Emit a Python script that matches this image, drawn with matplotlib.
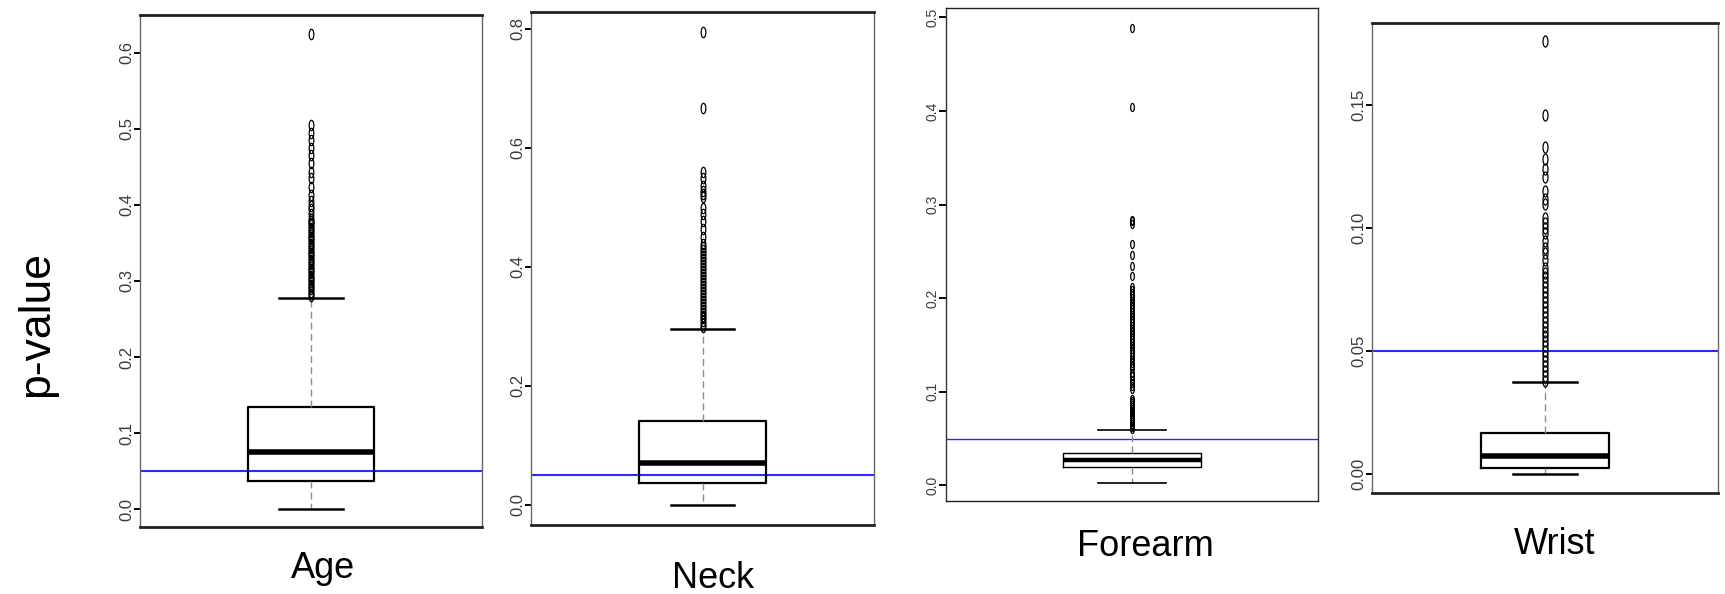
import matplotlib
matplotlib.use("Agg")
import matplotlib.pyplot as plt
import numpy as np
from matplotlib import font_manager

# values
names = ["Age", "Neck", "Forearm", "Wrist"]
cutoff = 0.05

# low whisker, Q1, median, Q3, high whisker
age_stats = [0.0, 0.037, 0.075, 0.134, 0.278]
neck_stats = [0.0, 0.036, 0.070, 0.140, 0.296]
forearm_stats = [0.003, 0.020, 0.027, 0.035, 0.059]
wrist_stats = [0.0, 0.0025, 0.0074, 0.0169, 0.0374]

age_fliers = [0.280, 0.283, 0.286, 0.289, 0.292, 0.295, 0.298, 0.301, 0.304,
              0.307, 0.310, 0.313, 0.316, 0.319, 0.322, 0.325, 0.328, 0.331,
              0.334, 0.337, 0.340, 0.343, 0.346, 0.349, 0.352, 0.355, 0.358,
              0.361, 0.364, 0.367, 0.370, 0.373, 0.376, 0.379, 0.382, 0.388,
              0.394, 0.398, 0.405, 0.413, 0.423, 0.435, 0.443, 0.455, 0.465,
              0.475, 0.485, 0.495, 0.505, 0.625]
neck_fliers = [0.298, 0.303, 0.308, 0.313, 0.318, 0.323, 0.328, 0.333, 0.338,
               0.343, 0.348, 0.353, 0.358, 0.363, 0.368, 0.373, 0.378, 0.383,
               0.388, 0.393, 0.398, 0.403, 0.408, 0.413, 0.418, 0.423, 0.428,
               0.433, 0.438, 0.450, 0.463, 0.476, 0.489, 0.499, 0.517, 0.522,
               0.527, 0.536, 0.549, 0.559, 0.667, 0.794]
forearm_fliers = [0.060, 0.062, 0.064, 0.066, 0.068, 0.070, 0.072, 0.074,
                  0.076, 0.078, 0.080, 0.082, 0.084, 0.086, 0.088, 0.090,
                  0.092, 0.103, 0.106, 0.109, 0.113, 0.117, 0.120, 0.125,
                  0.128, 0.131, 0.134, 0.137, 0.140, 0.143, 0.146, 0.149,
                  0.152, 0.155, 0.158, 0.161, 0.164, 0.167, 0.170, 0.173,
                  0.176, 0.179, 0.182, 0.185, 0.188, 0.191, 0.194, 0.197,
                  0.200, 0.203, 0.206, 0.209, 0.212, 0.224, 0.234, 0.246,
                  0.258, 0.279, 0.282, 0.284, 0.404, 0.489]
wrist_fliers = [0.038, 0.040, 0.042, 0.044, 0.046, 0.048, 0.050, 0.052, 0.054,
                0.056, 0.058, 0.060, 0.062, 0.064, 0.066, 0.068, 0.070, 0.072,
                0.074, 0.076, 0.078, 0.080, 0.082, 0.084, 0.087, 0.090, 0.092,
                0.095, 0.098, 0.100, 0.102, 0.104, 0.110, 0.112, 0.115, 0.121,
                0.124, 0.128, 0.133, 0.146, 0.176]

age_ticks = [0.0, 0.1, 0.2, 0.3, 0.4, 0.5, 0.6]
age_ticklabels = ["0.0", "0.1", "0.2", "0.3", "0.4", "0.5", "0.6"]
neck_ticks = [0.0, 0.2, 0.4, 0.6, 0.8]
neck_ticklabels = ["0.0", "0.2", "0.4", "0.6", "0.8"]
forearm_ticks = [0.0, 0.1, 0.2, 0.3, 0.4, 0.5]
forearm_ticklabels = ["0.0", "0.1", "0.2", "0.3", "0.4", "0.5"]
wrist_ticks = [0.00, 0.05, 0.10, 0.15]
wrist_ticklabels = ["0.00", "0.05", "0.10", "0.15"]

age_ylim = (-0.0234, 0.6496)
neck_ylim = (-0.034, 0.828)
forearm_ylim = (-0.0166, 0.510)
wrist_ylim = (-0.0076, 0.1834)

W, H = 1725, 594

# narrow font for the squeezed tick labels if there is one
narrow = "Liberation Sans Narrow"
if not any(f.name == narrow for f in font_manager.fontManager.ttflist):
    narrow = "Liberation Sans"

plt.rcParams["font.family"] = ["Liberation Sans", "DejaVu Sans"]

fig = plt.figure(figsize=(W / 100, H / 100), dpi=100)

# pixel boxes (left, top, right, bottom) of each panel
boxes = [(140, 15, 482, 527), (531, 12, 874, 525),
         (946, 8, 1318, 501), (1372, 23, 1718, 493)]
label_pos = [(323, 568), (713, 578), (1145, 547), (1555, 545)]
tick_size = [12, 12, 10, 12]
marker_h = [7.5, 7.5, 5.8, 8.0]
heavy = [True, True, False, True]

stats = [age_stats, neck_stats, forearm_stats, wrist_stats]
fliers = [age_fliers, neck_fliers, forearm_fliers, wrist_fliers]
ticks = [age_ticks, neck_ticks, forearm_ticks, wrist_ticks]
ticklabels = [age_ticklabels, neck_ticklabels, forearm_ticklabels,
              wrist_ticklabels]
ylims = [age_ylim, neck_ylim, forearm_ylim, wrist_ylim]

# narrow ellipse used as the outlier marker
t = np.linspace(0, 2 * np.pi, 40)
ellipse = np.column_stack([0.45 * np.cos(t), np.sin(t)])

for i in range(4):
    l, tp, r, b = boxes[i]
    ax = fig.add_axes([l / W, 1 - b / H, (r - l) / W, (b - tp) / H])
    lo, q1, med, q3, hi = stats[i]
    s = dict(whislo=lo, q1=q1, med=med, q3=q3, whishi=hi,
             fliers=fliers[i], label=names[i])
    lw = 1.6 if heavy[i] else 1.0
    ax.bxp([s], positions=[1], widths=0.4, capwidths=0.2,
           boxprops=dict(color="black", linewidth=lw),
           medianprops=dict(color="black", linewidth=4.0 if heavy[i] else 3.2,
                            solid_capstyle="butt"),
           whiskerprops=dict(color="#8c8c8c", linewidth=1.0,
                             linestyle=(0, (5, 3))),
           capprops=dict(color="black", linewidth=1.8 if heavy[i] else 1.2),
           flierprops=dict(marker=ellipse, markersize=marker_h[i],
                           markerfacecolor="none", markeredgecolor="black",
                           markeredgewidth=0.9, linestyle="none"))
    ax.axhline(cutoff, color="#2a2aff", linewidth=1.5 if heavy[i] else 1.0,
               zorder=1)
    ax.set_xlim(0.46, 1.54)
    ax.set_ylim(*ylims[i])
    ax.set_xticks([])
    ax.set_yticks(ticks[i])
    ax.set_yticklabels(ticklabels[i], rotation=90, va="center",
                       fontsize=tick_size[i], color="#3a3a3a",
                       family=[narrow, "DejaVu Sans"])
    ax.tick_params(axis="y", length=4 if heavy[i] else 5, width=1.4,
                   pad=0, color="black")
    for side in ["top", "bottom"]:
        ax.spines[side].set_linewidth(2.0 if heavy[i] else 1.0)
        ax.spines[side].set_color("#222222")
    for side in ["left", "right"]:
        ax.spines[side].set_linewidth(1.0)
        ax.spines[side].set_color("#666666" if heavy[i] else "#333333")
    fig.text(label_pos[i][0] / W, 1 - label_pos[i][1] / H, names[i],
             ha="center", va="center", fontsize=26)

fig.text(37 / W, 1 - 324 / H, "p-value", rotation=90, ha="center",
         va="center", fontsize=32)

fig.savefig("out.png", dpi=100)
